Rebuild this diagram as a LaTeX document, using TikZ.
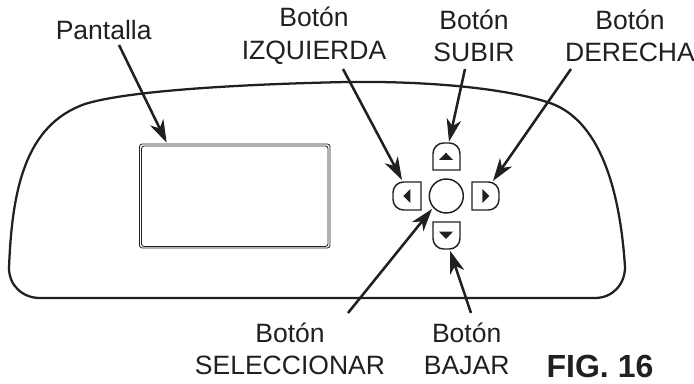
\documentclass[tikz,border=0pt]{standalone}
\usepackage{fontspec}
\setmainfont{Liberation Sans}
\usetikzlibrary{arrows.meta}
\definecolor{ink}{HTML}{231F20}
\tikzset{
  lab/.style={font=\fontsize{19.9pt}{24.5pt}\selectfont, text=ink, align=center, inner sep=0pt},
  figlab/.style={font=\fontsize{24pt}{26pt}\selectfont\bfseries, text=ink, inner sep=0pt},
  pointer/.style={draw=ink, line width=1.9pt, -{Stealth[length=17pt,width=11pt,inset=5pt]}},
  outline/.style={draw=ink, line width=1.7pt},
  btn/.style={draw=ink, line width=1.1pt},
  tri/.style={fill=ink, draw=none},
  screen/.style={draw=ink, line width=0.6pt, rounded corners=2pt}
}
\begin{document}
\begin{tikzpicture}[x=0.75pt,y=-0.75pt]
\useasboundingbox (0,0) rectangle (694,384);
% housing
\draw[outline] (40,298) .. controls (22,298) and (9,285) .. (9,268)
  .. controls (12,190) and (25,125) .. (85,104)
  .. controls (130,90) and (250,84) .. (347,82)
  .. controls (420,81) and (500,87) .. (547,102)
  .. controls (600,118) and (620,190) .. (625,267)
  .. controls (625,285) and (612,298) .. (595,298) -- cycle;
% screen
\draw[screen] (139.5,144) rectangle (330,248);
\draw[screen] (141.5,146) rectangle (328,246.5);
% buttons
\draw[btn] (433,170) [rounded corners=8pt] -- (433,143) -- (460,143) [sharp corners] -- (460,170) -- cycle;
\draw[btn] (433,222) -- (460,222) [rounded corners=8pt] -- (460,249) -- (433,249) [sharp corners] -- cycle;
\draw[btn] (421,182) [rounded corners=8pt] -- (393,182) -- (393,210) [sharp corners] -- (421,210) -- cycle;
\draw[btn] (472,182) [rounded corners=8pt] -- (499,182) -- (499,210) [sharp corners] -- (472,210) -- cycle;
\node[btn, circle, minimum size=25.5pt, inner sep=0pt] (sel) at (446.3,196) {};
\fill[tri] (439,160) -- (453,160) -- (446,152.7) -- cycle;
\fill[tri] (439,231.7) -- (453,231.7) -- (446,239) -- cycle;
\fill[tri] (403.3,196) -- (410.3,189) -- (410.3,203) -- cycle;
\fill[tri] (482.3,189) -- (482.3,203) -- (489.3,196) -- cycle;
% labels
\node[lab] (lp) at (103.7,30) {Pantalla};
\node[lab] (li) at (314,36) {Botón\\IZQUIERDA};
\node[lab] (lu) at (474,36) {Botón\\SUBIR};
\node[lab] (ld) at (630,36) {Botón\\DERECHA};
\node[lab] (ls) at (290,349) {Botón\\SELECCIONAR};
\node[lab] (lb) at (466.7,349) {Botón\\BAJAR};
\node[figlab] (fig) at (600,366) {FIG. 16};
% pointers
\coordinate (ap) at (119,45); \coordinate (tp) at (166.7,142.7);
\coordinate (ai) at (343,69); \coordinate (ti) at (402,180);
\coordinate (au) at (465,69); \coordinate (tu) at (449,141.7);
\coordinate (ad) at (571,69); \coordinate (td) at (493,181);
\coordinate (as) at (348,313); \coordinate (ts) at (432,209);
\coordinate (ab) at (471,313); \coordinate (tb) at (450,250.7);
\draw[pointer] (ap) -- (tp);
\draw[pointer] (ai) -- (ti);
\draw[pointer] (au) -- (tu);
\draw[pointer] (ad) -- (td);
\draw[pointer] (as) -- (ts);
\draw[pointer] (ab) -- (tb);
\end{tikzpicture}
\end{document}
